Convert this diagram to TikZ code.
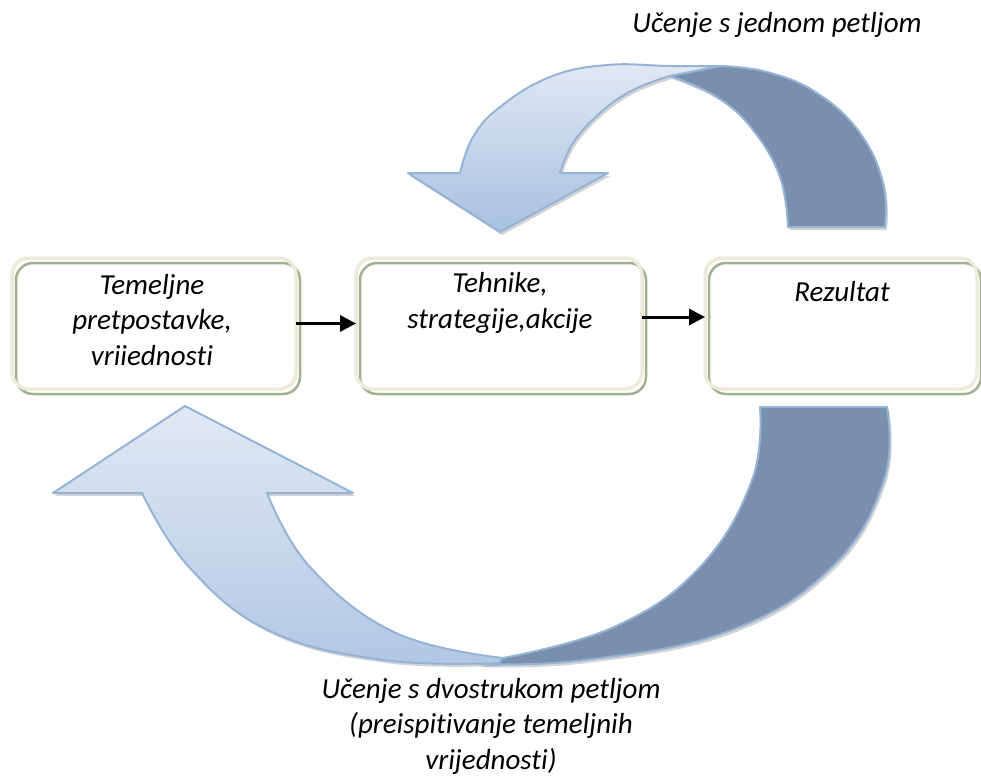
\documentclass[tikz,border=0pt]{standalone}
\usepackage{fontspec}
\setmainfont{Carlito}[RawFeature={-liga;-clig;-calt;-dlig;-rlig}]
\usetikzlibrary{arrows.meta,backgrounds}
\definecolor{cream}{HTML}{EEEBDD}
\definecolor{boxgreen}{HTML}{A2B18E}
\definecolor{arrowdark}{HTML}{7A8FAD}
\definecolor{arrowedge}{HTML}{95B3D7}
\definecolor{lightA}{HTML}{E1E9F3}
\definecolor{lightB}{HTML}{A8C0E1}
\definecolor{lightC}{HTML}{B2C7E4}
\tikzset{
  box/.style={draw=cream, line width=3.5pt, rounded corners=17pt, outer sep=0pt, inner sep=0pt},
  boxshadow/.style={draw=boxgreen, line width=2.5pt, rounded corners=17pt},
  label/.style={font={\fontsize{29}{35.5}\selectfont\itshape}, align=center, anchor=base, inner sep=0pt},
  flow/.style={line width=3pt, -{Triangle[length=16pt,width=16pt]}},
  front/.style={draw=arrowedge, line width=2pt, line join=round},
  back/.style={fill=arrowdark, draw=arrowedge, line width=2pt, line join=round},
  shade/.style={fill=gray, opacity=0.35},
}
\begin{document}
\begin{tikzpicture}[x=1pt,y=-1pt]
\useasboundingbox (0,0) rectangle (981,778);

% ---- top arrow (single loop) ----
\begin{scope}[xshift=2pt,yshift=-3pt]
\fill[shade] (788,227) -- (885,227)
  -- plot[smooth,tension=0.7] coordinates {(885,227) (883,183) (860,133) (817,93) (767,72) (720,66)}
  -- (670,76)
  -- plot[smooth,tension=0.7] coordinates {(670,76) (717,97) (753,130) (780,177) (788,227)} -- cycle;
\fill[shade] (720,66)
  -- plot[smooth,tension=0.7] coordinates {(720,66) (670,66) (607,65) (550,77) (500,107) (473,137) (460,173)}
  -- (408,173) -- (500,232) -- (608,173) -- (560,173)
  -- plot[smooth,tension=0.7] coordinates {(560,173) (573,143) (600,113) (633,90) (670,76)} -- cycle;
\end{scope}
\path[back] (788,227) -- (885,227)
  -- plot[smooth,tension=0.7] coordinates {(885,227) (883,183) (860,133) (817,93) (767,72) (720,66)}
  -- (670,76)
  -- plot[smooth,tension=0.7] coordinates {(670,76) (717,97) (753,130) (780,177) (788,227)} -- cycle;
\path[front, top color=lightA, bottom color=lightB] (720,66)
  -- plot[smooth,tension=0.7] coordinates {(720,66) (670,66) (607,65) (550,77) (500,107) (473,137) (460,173)}
  -- (408,173) -- (500,232) -- (608,173) -- (560,173)
  -- plot[smooth,tension=0.7] coordinates {(560,173) (573,143) (600,113) (633,90) (670,76)} -- cycle;

% ---- bottom arrow (double loop) ----
\begin{scope}[xshift=2pt,yshift=-3pt]
\fill[shade] (760,407) -- (887,407)
  -- plot[smooth,tension=0.7] coordinates {(887,407) (884,480) (832,567) (729,631) (585,660) (478,664)}
  -- (503,658)
  -- plot[smooth,tension=0.7] coordinates {(503,658) (614,627) (700,567) (752,480) (760,407)} -- cycle;
\fill[shade] (185,406) -- (353,493) -- (267,493)
  -- plot[smooth,tension=0.7] coordinates {(267,493) (310,567) (396,633) (503,658)}
  -- (499,663)
  -- plot[smooth,tension=0.7] coordinates {(499,663) (384,660) (270,631) (189,567) (142,493)}
  -- (53,493) -- cycle;
\end{scope}
\path[back] (760,407) -- (887,407)
  -- plot[smooth,tension=0.7] coordinates {(887,407) (884,480) (832,567) (729,631) (585,660) (478,664)}
  -- (503,658)
  -- plot[smooth,tension=0.7] coordinates {(503,658) (614,627) (700,567) (752,480) (760,407)} -- cycle;
\path[front, top color=lightA, bottom color=lightC] (185,406) -- (353,493) -- (267,493)
  -- plot[smooth,tension=0.7] coordinates {(267,493) (310,567) (396,633) (503,658)}
  -- (499,663)
  -- plot[smooth,tension=0.7] coordinates {(499,663) (384,660) (270,631) (189,567) (142,493)}
  -- (53,493) -- cycle;

% ---- boxes ----
\node[box, minimum width=284pt, minimum height=131pt] (b1) at (154,323.5) {};
\node[box, minimum width=286pt, minimum height=131pt] (b2) at (499,323.5) {};
\node[box, minimum width=272pt, minimum height=131pt] (b3) at (841,323.5) {};
\begin{scope}[on background layer]
\foreach \b in {b1,b2,b3}
  \draw[boxshadow] ([xshift=4pt,yshift=-5pt]\b.south west) rectangle ([xshift=4pt,yshift=-5pt]\b.north east);
\end{scope}

% multi-line nodes: base anchor = last line
\node[label] (t1) at (152,365) {Temeljne\\pretpostavke,\\vriiednosti};
\node[label] (t2) at (500,328) {Tehnike,\\strategije,akcije};
\node[label] (t3) at (842,301) {Rezultat};

\draw[flow] (b1.east) -- (b2.west);
\draw[flow] (b2.east |- 0,317) -- (b3.west |- 0,317);

\node[label] (top) at (777,33) {Učenje s jednom petljom};
\node[label] (bottom) at (491,769) {Učenje s dvostrukom petljom\\(preispitivanje temeljnih\\vrijednosti)};
\end{tikzpicture}
\end{document}
